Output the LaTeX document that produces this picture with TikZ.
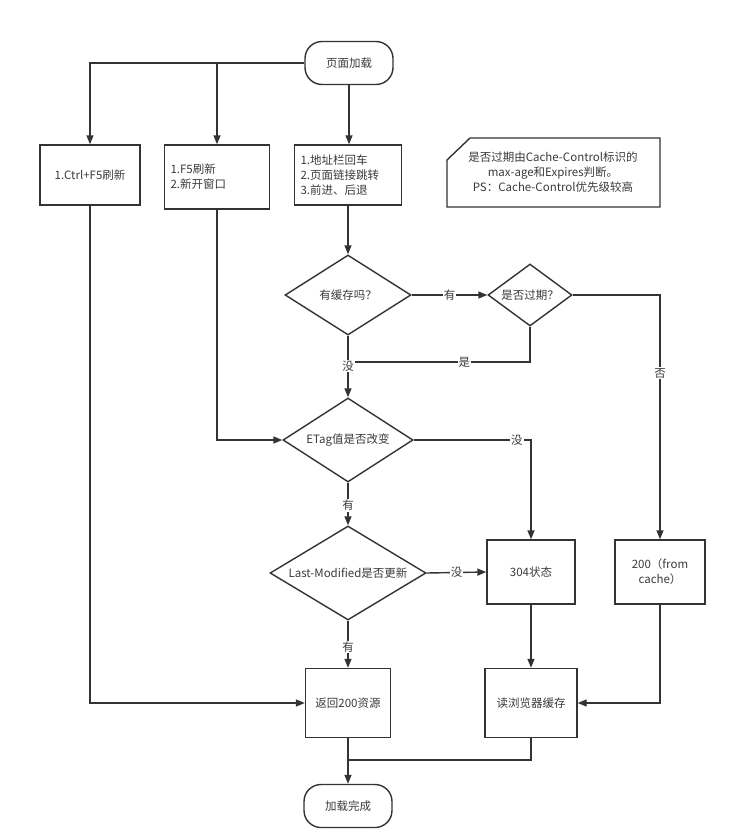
\documentclass[tikz,border=0pt]{standalone}
\usepackage{fontspec}
\setmainfont{Noto Sans CJK SC}
\usetikzlibrary{shapes.geometric,arrows.meta}
\definecolor{ln}{HTML}{333333}
\definecolor{txt}{HTML}{3A3A3A}
\begin{document}
\begin{tikzpicture}[x=1pt,y=-1pt,
  every node/.style={font=\fontsize{11.5}{15}\selectfont, text=txt},
  pbox/.style={draw=ln, line width=1.4pt, inner sep=0pt},
  term/.style={draw=ln, line width=1.4pt, inner sep=0pt, rounded corners=17pt},
  dia/.style={draw=ln, line width=1.4pt, shape=diamond, inner sep=0pt},
  conn/.style={draw=ln, line width=1.4pt},
  arr/.style={conn, -{Triangle[length=9pt,width=7pt]}},
  lbl/.style={fill=white, inner sep=1pt}]
\useasboundingbox (0,0) rectangle (736,835);

% nodes
\node[term, minimum width=88pt, minimum height=43pt] (start) at (349,63) {页面加载};
\node[pbox, minimum width=100pt, minimum height=60pt] (boxA) at (90,175) {1.Ctrl+F5刷新};
\node[pbox, minimum width=105pt, minimum height=64pt, text width=93pt, align=left] (boxB) at (217,177) {1.F5刷新\\2.新开窗口};
\node[pbox, minimum width=107pt, minimum height=60pt, text width=95pt, align=left] (boxC) at (348,175) {1.地址栏回车\\2.页面链接跳转\\3.前进、后退};
\node[align=center, inner sep=0pt] (note) at (553,172) {是否过期由Cache-Control标识的\\max-age和Expires判断。\\PS：Cache-Control优先级较高};
\draw[conn] (470,138) -- (660,138) -- (660,207) -- (447,207) -- (447,160) -- cycle;

\node[dia, minimum width=126pt, minimum height=80pt] (d1) at (348,295) {\makebox[0pt]{有缓存吗？}};
\node[dia, minimum width=84pt, minimum height=62pt] (d2) at (530,295) {\makebox[0pt]{是否过期？}};
\node[dia, minimum width=130pt, minimum height=84pt] (etag) at (348,440) {\makebox[0pt]{ETag值是否改变}};
\node[dia, minimum width=156pt, minimum height=94pt] (lm) at (348,573) {\makebox[0pt]{Last-Modified是否更新}};
\node[pbox, minimum width=88pt, minimum height=64pt] (s304) at (531,572) {304状态};
\node[pbox, minimum width=90pt, minimum height=64pt, align=center] (cache) at (660,572) {200（from\\cache）};
\node[pbox, minimum width=85pt, minimum height=69pt] (ret) at (348,703) {返回200资源};
\node[pbox, minimum width=92pt, minimum height=69pt] (readc) at (531,703) {读浏览器缓存};
\node[term, minimum width=88pt, minimum height=43pt] (done) at (348,806) {加载完成};

\coordinate (j1) at (348,362);
\coordinate (j2) at (348,760);

% connectors
\draw[arr] (start.west) -| (boxA.north);
\draw[arr] (start.west) -| (boxB.north);
\draw[arr] (start.south) -- (start.south |- boxC.north);
\draw[arr] (boxC.south) -- (d1.north);
\draw[arr] (d1.east) -- node[lbl]{有} (d2.west);
\draw[arr] (d2.east) -| node[lbl, pos=0.66]{否} (cache.north);
\draw[conn] (d2.south) |- node[lbl, pos=0.68]{是} (j1);
\draw[arr] (d1.south) -- node[lbl, pos=0.49]{没} (etag.north);
\draw[arr] (boxB.south) |- (etag.west);
\draw[arr] (etag.east) -| node[lbl, pos=0.44]{没} (s304.north);
\draw[arr] (etag.south) -- node[lbl, pos=0.53]{有} (lm.north);
\draw[arr] (lm.east) -- node[lbl]{没} (s304.west);
\draw[arr] (lm.south) -- node[lbl, pos=0.56]{有} (ret.north);
\draw[arr] (boxA.south) |- (ret.west);
\draw[arr] (s304.south) -- (readc.north);
\draw[arr] (cache.south) |- (readc.east);
\draw[arr] (ret.south) -- (done.north);
\draw[conn] (readc.south) |- (j2);
\end{tikzpicture}
\end{document}
